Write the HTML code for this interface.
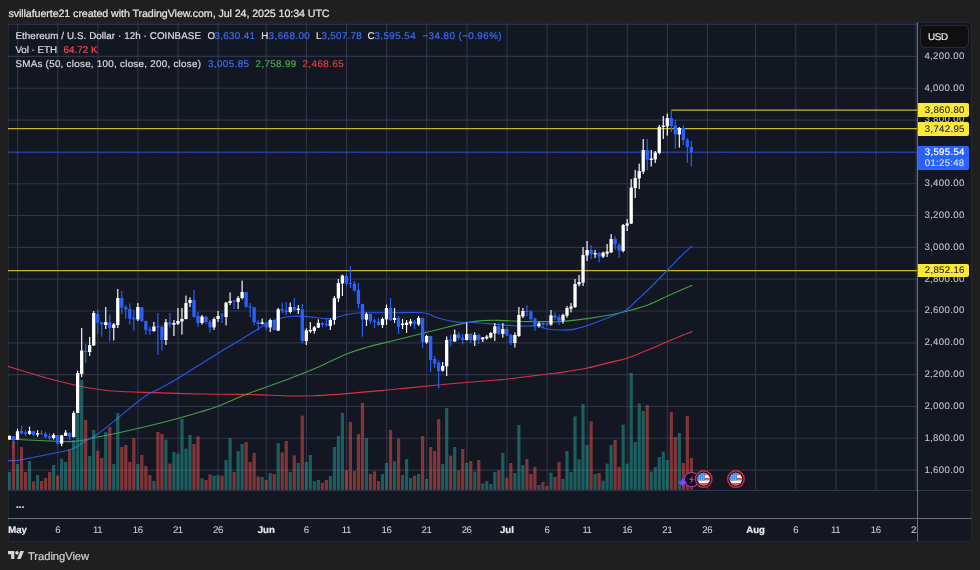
<!DOCTYPE html>
<html lang="en"><head><meta charset="utf-8"><title>ETHUSD chart</title>
<style>
html,body{margin:0;padding:0;}
body{text-rendering:geometricPrecision;width:980px;height:570px;background:#1f1f1f;position:relative;overflow:hidden;font-family:"Liberation Sans", Arial, sans-serif;color:#dcdee5;}
.t{position:absolute;white-space:nowrap;line-height:1.149;-webkit-text-stroke:0.2px currentColor;}
.tag{position:absolute;left:918px;width:51px;border-radius:0 2px 2px 0;}
</style></head><body>

<svg width="980" height="570" viewBox="0 0 980 570" style="position:absolute;left:0;top:0">
<rect x="8.3" y="22.2" width="963.3000000000001" height="519.0999999999999" fill="#131722" stroke="#2b2c32" stroke-width="0.8"/>
<defs><clipPath id="pane"><rect x="8" y="22.5" width="909.5" height="468.0"/></clipPath></defs>
<g stroke="#2f3448" stroke-width="1.15" clip-path="url(#pane)"><line x1="17.60" y1="22.5" x2="17.60" y2="490.5"/><line x1="57.71" y1="22.5" x2="57.71" y2="490.5"/><line x1="97.82" y1="22.5" x2="97.82" y2="490.5"/><line x1="137.93" y1="22.5" x2="137.93" y2="490.5"/><line x1="178.04" y1="22.5" x2="178.04" y2="490.5"/><line x1="218.15" y1="22.5" x2="218.15" y2="490.5"/><line x1="266.28" y1="22.5" x2="266.28" y2="490.5"/><line x1="306.39" y1="22.5" x2="306.39" y2="490.5"/><line x1="346.50" y1="22.5" x2="346.50" y2="490.5"/><line x1="386.61" y1="22.5" x2="386.61" y2="490.5"/><line x1="426.72" y1="22.5" x2="426.72" y2="490.5"/><line x1="466.83" y1="22.5" x2="466.83" y2="490.5"/><line x1="506.94" y1="22.5" x2="506.94" y2="490.5"/><line x1="547.05" y1="22.5" x2="547.05" y2="490.5"/><line x1="587.16" y1="22.5" x2="587.16" y2="490.5"/><line x1="627.27" y1="22.5" x2="627.27" y2="490.5"/><line x1="667.38" y1="22.5" x2="667.38" y2="490.5"/><line x1="707.49" y1="22.5" x2="707.49" y2="490.5"/><line x1="755.63" y1="22.5" x2="755.63" y2="490.5"/><line x1="795.74" y1="22.5" x2="795.74" y2="490.5"/><line x1="835.85" y1="22.5" x2="835.85" y2="490.5"/><line x1="875.96" y1="22.5" x2="875.96" y2="490.5"/><line x1="916.07" y1="22.5" x2="916.07" y2="490.5"/><line x1="8" y1="470.11" x2="917.5" y2="470.11"/><line x1="8" y1="438.29" x2="917.5" y2="438.29"/><line x1="8" y1="406.47" x2="917.5" y2="406.47"/><line x1="8" y1="374.64" x2="917.5" y2="374.64"/><line x1="8" y1="342.82" x2="917.5" y2="342.82"/><line x1="8" y1="310.99" x2="917.5" y2="310.99"/><line x1="8" y1="279.17" x2="917.5" y2="279.17"/><line x1="8" y1="247.35" x2="917.5" y2="247.35"/><line x1="8" y1="215.52" x2="917.5" y2="215.52"/><line x1="8" y1="183.70" x2="917.5" y2="183.70"/><line x1="8" y1="151.87" x2="917.5" y2="151.87"/><line x1="8" y1="120.05" x2="917.5" y2="120.05"/><line x1="8" y1="88.23" x2="917.5" y2="88.23"/><line x1="8" y1="56.40" x2="917.5" y2="56.40"/></g>
<line x1="8.5" y1="24.2" x2="917.5" y2="24.2" stroke="#353c59" stroke-width="1"/>
<g clip-path="url(#pane)">
<line x1="8" y1="270.55" x2="917.5" y2="270.55" stroke="#c9b62f" stroke-width="1.2"/>
<line x1="8" y1="128.55" x2="917.5" y2="128.55" stroke="#c9b62f" stroke-width="1.2"/>
<line x1="671.40" y1="110.05" x2="917.5" y2="110.05" stroke="#c9b62f" stroke-width="1.2"/>
<path fill="none" stroke="#d8323f" stroke-width="1.1" stroke-linecap="round" d="M8.0,366.4 C11.7,367.5 21.7,370.6 30.0,373.0 C38.3,375.4 49.0,378.7 58.0,381.0 C67.0,383.3 77.3,385.6 84.0,387.0 C90.7,388.4 93.3,388.5 98.0,389.2 C102.7,389.9 104.3,390.5 112.0,391.0 C119.7,391.5 129.3,391.9 144.0,392.4 C158.7,392.9 183.0,393.7 200.0,394.0 C217.0,394.3 230.7,394.1 246.0,394.4 C261.3,394.7 280.3,395.8 292.0,396.0 C303.7,396.2 306.9,396.0 316.0,395.6 C325.1,395.2 333.9,394.6 346.6,393.6 C359.3,392.6 376.8,390.9 392.0,389.5 C407.2,388.1 428.7,385.9 438.0,385.0 C447.3,384.1 438.3,384.8 448.0,384.0 C457.7,383.2 486.0,380.8 496.0,380.0 C506.0,379.2 499.3,380.0 508.0,379.0 C516.7,378.0 539.3,375.1 548.0,374.0 C556.7,372.9 553.4,373.6 560.0,372.6 C566.6,371.6 579.1,369.7 587.4,368.0 C595.7,366.3 603.3,364.1 610.0,362.4 C616.7,360.7 621.3,360.1 627.6,358.0 C633.9,355.9 641.3,352.7 648.0,350.0 C654.7,347.3 660.3,344.7 667.6,341.6 C674.9,338.5 687.9,333.3 692.0,331.6"/>
<path fill="none" stroke="#43a047" stroke-width="1.1" stroke-linecap="round" d="M8.0,439.0 C13.3,439.2 29.7,440.1 40.0,440.5 C50.3,440.9 62.7,441.7 70.0,441.6 C77.3,441.5 79.4,440.8 84.0,440.0 C88.6,439.2 91.9,438.2 97.6,437.0 C103.3,435.8 110.3,434.7 118.0,433.0 C125.7,431.3 134.3,429.3 144.0,427.0 C153.7,424.7 166.7,421.5 176.0,419.0 C185.3,416.5 192.9,414.2 200.0,412.0 C207.1,409.8 211.6,408.7 218.6,406.0 C225.6,403.3 234.0,399.2 242.0,396.0 C250.0,392.8 259.1,389.7 266.4,387.0 C273.7,384.3 280.4,382.1 286.0,380.0 C291.6,377.9 295.0,376.5 300.0,374.5 C305.0,372.5 308.2,371.4 316.0,368.0 C323.8,364.6 337.9,357.5 346.6,354.0 C355.3,350.5 360.4,349.2 368.0,347.0 C375.6,344.8 385.3,342.7 392.0,341.0 C398.7,339.3 402.7,338.3 408.0,337.0 C413.3,335.7 417.3,334.7 424.0,333.0 C430.7,331.3 440.7,328.8 448.0,327.0 C455.3,325.2 462.3,323.5 468.0,322.4 C473.7,321.3 476.7,320.9 482.0,320.6 C487.3,320.3 492.3,320.2 500.0,320.4 C507.7,320.6 520.0,321.4 528.0,321.6 C536.0,321.8 542.7,321.6 548.0,321.6 C553.3,321.6 553.4,322.1 560.0,321.6 C566.6,321.1 579.1,319.7 587.4,318.6 C595.7,317.5 603.3,316.3 610.0,315.0 C616.7,313.7 621.3,312.7 627.6,311.0 C633.9,309.3 641.3,307.5 648.0,305.0 C654.7,302.5 662.1,298.5 667.6,296.0 C673.1,293.5 676.9,291.8 681.0,290.0 C685.1,288.2 690.2,286.2 692.0,285.4"/>
<path fill="none" stroke="#2558e6" stroke-width="1.1" stroke-linecap="round" d="M8.0,460.6 C9.7,460.6 14.3,460.8 18.0,460.4 C21.7,460.0 24.7,459.1 30.0,458.0 C35.3,456.9 43.0,455.5 50.0,454.0 C57.0,452.5 66.3,451.0 72.0,449.0 C77.7,447.0 79.7,444.5 84.0,442.0 C88.3,439.5 91.9,438.0 97.6,434.0 C103.3,430.0 110.3,424.2 118.0,418.0 C125.7,411.8 137.2,401.8 144.0,397.0 C150.8,392.2 153.8,391.8 159.0,389.0 C164.2,386.2 168.8,383.7 175.0,380.0 C181.2,376.3 188.7,371.5 196.0,367.0 C203.3,362.5 210.9,357.7 218.6,353.0 C226.3,348.3 234.0,343.8 242.0,339.0 C250.0,334.2 260.1,327.4 266.4,324.0 C272.7,320.6 275.7,319.8 280.0,318.5 C284.3,317.2 287.6,316.6 292.0,316.3 C296.4,316.0 300.9,316.2 306.6,316.6 C312.3,317.0 321.1,318.5 326.0,318.6 C330.9,318.7 332.6,318.1 336.0,317.4 C339.4,316.7 342.3,315.4 346.6,314.6 C350.9,313.8 354.4,313.1 362.0,312.8 C369.6,312.5 381.7,312.8 392.0,312.8 C402.3,312.8 416.3,312.1 424.0,313.0 C431.7,313.9 433.0,316.6 438.0,318.0 C443.0,319.4 449.0,320.9 454.0,321.6 C459.0,322.3 462.3,322.1 468.0,322.4 C473.7,322.7 480.0,323.0 488.0,323.6 C496.0,324.2 508.0,325.6 516.0,326.0 C524.0,326.4 530.7,325.5 536.0,326.0 C541.3,326.5 544.0,328.3 548.0,329.0 C552.0,329.7 556.0,329.9 560.0,330.0 C564.0,330.1 567.4,330.3 572.0,329.6 C576.6,328.9 581.1,327.7 587.4,325.6 C593.7,323.5 604.2,319.3 610.0,317.0 C615.8,314.7 619.1,313.3 622.0,312.0 C624.9,310.7 625.3,310.8 627.6,309.0 C629.9,307.2 632.6,304.2 636.0,301.0 C639.4,297.8 642.7,295.2 648.0,290.0 C653.3,284.8 662.3,275.5 667.6,270.0 C672.9,264.5 675.9,261.0 680.0,257.0 C684.1,253.0 690.0,247.8 692.0,246.0"/>
<line x1="8" y1="152.45" x2="917.5" y2="152.45" stroke="#2962ff" stroke-opacity="0.26" stroke-width="1"/>
<line x1="8.6" y1="152.45" x2="917.5" y2="152.45" stroke="#2962ff" stroke-opacity="0.75" stroke-width="1" stroke-dasharray="0.9 1.57"/>
<g fill="#26a69a" fill-opacity="0.5"><rect x="7.88" y="472.0" width="3.2" height="17.8"/><rect x="15.90" y="464.0" width="3.2" height="25.8"/><rect x="27.93" y="461.0" width="3.2" height="28.8"/><rect x="35.96" y="475.0" width="3.2" height="14.8"/><rect x="52.00" y="465.0" width="3.2" height="24.8"/><rect x="60.02" y="458.6" width="3.2" height="31.2"/><rect x="64.03" y="462.0" width="3.2" height="27.8"/><rect x="72.06" y="440.0" width="3.2" height="49.8"/><rect x="76.07" y="414.0" width="3.2" height="75.8"/><rect x="80.08" y="380.0" width="3.2" height="109.8"/><rect x="88.10" y="456.0" width="3.2" height="33.8"/><rect x="92.11" y="430.0" width="3.2" height="59.8"/><rect x="104.14" y="432.0" width="3.2" height="57.8"/><rect x="112.17" y="464.0" width="3.2" height="25.8"/><rect x="116.18" y="413.0" width="3.2" height="76.8"/><rect x="136.23" y="464.0" width="3.2" height="25.8"/><rect x="152.28" y="481.0" width="3.2" height="8.8"/><rect x="164.31" y="439.6" width="3.2" height="50.2"/><rect x="172.33" y="452.0" width="3.2" height="37.8"/><rect x="176.34" y="453.6" width="3.2" height="36.2"/><rect x="180.35" y="419.0" width="3.2" height="70.8"/><rect x="184.36" y="448.6" width="3.2" height="41.2"/><rect x="188.38" y="435.0" width="3.2" height="54.8"/><rect x="200.41" y="478.4" width="3.2" height="11.4"/><rect x="212.44" y="475.6" width="3.2" height="14.2"/><rect x="216.45" y="475.2" width="3.2" height="14.6"/><rect x="224.47" y="460.0" width="3.2" height="29.8"/><rect x="228.49" y="438.0" width="3.2" height="51.8"/><rect x="236.51" y="451.0" width="3.2" height="38.8"/><rect x="240.52" y="444.0" width="3.2" height="45.8"/><rect x="260.57" y="477.0" width="3.2" height="12.8"/><rect x="268.59" y="473.0" width="3.2" height="16.8"/><rect x="276.62" y="443.0" width="3.2" height="46.8"/><rect x="288.65" y="472.0" width="3.2" height="17.8"/><rect x="296.67" y="463.0" width="3.2" height="26.8"/><rect x="304.69" y="462.0" width="3.2" height="27.8"/><rect x="308.70" y="455.0" width="3.2" height="34.8"/><rect x="312.72" y="481.4" width="3.2" height="8.4"/><rect x="316.73" y="480.0" width="3.2" height="9.8"/><rect x="328.76" y="476.0" width="3.2" height="13.8"/><rect x="332.77" y="447.0" width="3.2" height="42.8"/><rect x="336.78" y="436.0" width="3.2" height="53.8"/><rect x="340.79" y="413.0" width="3.2" height="76.8"/><rect x="364.86" y="438.0" width="3.2" height="51.8"/><rect x="380.90" y="474.0" width="3.2" height="15.8"/><rect x="384.91" y="463.0" width="3.2" height="26.8"/><rect x="392.94" y="461.4" width="3.2" height="28.4"/><rect x="400.96" y="475.0" width="3.2" height="14.8"/><rect x="404.97" y="459.0" width="3.2" height="30.8"/><rect x="408.98" y="478.0" width="3.2" height="11.8"/><rect x="417.00" y="474.0" width="3.2" height="15.8"/><rect x="425.02" y="479.0" width="3.2" height="10.8"/><rect x="441.07" y="464.0" width="3.2" height="25.8"/><rect x="445.08" y="408.0" width="3.2" height="81.8"/><rect x="453.10" y="447.0" width="3.2" height="42.8"/><rect x="465.13" y="463.0" width="3.2" height="26.8"/><rect x="473.16" y="471.6" width="3.2" height="18.2"/><rect x="481.18" y="483.4" width="3.2" height="6.4"/><rect x="485.19" y="481.0" width="3.2" height="8.8"/><rect x="489.20" y="484.0" width="3.2" height="5.8"/><rect x="493.21" y="472.0" width="3.2" height="17.8"/><rect x="501.23" y="453.0" width="3.2" height="36.8"/><rect x="513.27" y="473.0" width="3.2" height="16.8"/><rect x="517.28" y="425.0" width="3.2" height="64.8"/><rect x="521.29" y="465.0" width="3.2" height="24.8"/><rect x="537.33" y="485.0" width="3.2" height="4.8"/><rect x="549.37" y="472.6" width="3.2" height="17.2"/><rect x="561.40" y="479.0" width="3.2" height="10.8"/><rect x="565.41" y="451.0" width="3.2" height="38.8"/><rect x="569.42" y="472.0" width="3.2" height="17.8"/><rect x="573.43" y="416.4" width="3.2" height="73.4"/><rect x="577.44" y="459.4" width="3.2" height="30.4"/><rect x="581.45" y="404.0" width="3.2" height="85.8"/><rect x="585.46" y="445.0" width="3.2" height="44.8"/><rect x="593.49" y="474.0" width="3.2" height="15.8"/><rect x="601.51" y="480.6" width="3.2" height="9.2"/><rect x="605.52" y="463.6" width="3.2" height="26.2"/><rect x="609.53" y="445.0" width="3.2" height="44.8"/><rect x="621.56" y="424.6" width="3.2" height="65.2"/><rect x="625.57" y="463.6" width="3.2" height="26.2"/><rect x="629.59" y="373.0" width="3.2" height="116.8"/><rect x="633.60" y="442.0" width="3.2" height="47.8"/><rect x="637.61" y="403.6" width="3.2" height="86.2"/><rect x="641.62" y="411.0" width="3.2" height="78.8"/><rect x="649.64" y="471.6" width="3.2" height="18.2"/><rect x="653.65" y="467.0" width="3.2" height="22.8"/><rect x="657.66" y="457.0" width="3.2" height="32.8"/><rect x="661.67" y="451.6" width="3.2" height="38.2"/><rect x="665.68" y="460.0" width="3.2" height="29.8"/><rect x="677.72" y="433.0" width="3.2" height="56.8"/></g>
<g fill="#ef5350" fill-opacity="0.5"><rect x="11.89" y="441.0" width="3.2" height="48.8"/><rect x="19.91" y="447.0" width="3.2" height="42.8"/><rect x="23.92" y="472.0" width="3.2" height="17.8"/><rect x="31.95" y="481.4" width="3.2" height="8.4"/><rect x="39.97" y="481.0" width="3.2" height="8.8"/><rect x="43.98" y="478.0" width="3.2" height="11.8"/><rect x="47.99" y="472.0" width="3.2" height="17.8"/><rect x="56.01" y="475.6" width="3.2" height="14.2"/><rect x="68.05" y="449.6" width="3.2" height="40.2"/><rect x="84.09" y="420.0" width="3.2" height="69.8"/><rect x="96.12" y="450.6" width="3.2" height="39.2"/><rect x="100.13" y="458.0" width="3.2" height="31.8"/><rect x="108.16" y="427.0" width="3.2" height="62.8"/><rect x="120.19" y="447.0" width="3.2" height="42.8"/><rect x="124.20" y="445.0" width="3.2" height="44.8"/><rect x="128.21" y="462.0" width="3.2" height="27.8"/><rect x="132.22" y="438.0" width="3.2" height="51.8"/><rect x="140.24" y="455.0" width="3.2" height="34.8"/><rect x="144.25" y="466.0" width="3.2" height="23.8"/><rect x="148.27" y="475.0" width="3.2" height="14.8"/><rect x="156.29" y="432.0" width="3.2" height="57.8"/><rect x="160.30" y="434.0" width="3.2" height="55.8"/><rect x="168.32" y="463.6" width="3.2" height="26.2"/><rect x="192.39" y="444.0" width="3.2" height="45.8"/><rect x="196.40" y="436.4" width="3.2" height="53.4"/><rect x="204.42" y="480.0" width="3.2" height="9.8"/><rect x="208.43" y="474.4" width="3.2" height="15.4"/><rect x="220.46" y="475.6" width="3.2" height="14.2"/><rect x="232.50" y="472.0" width="3.2" height="17.8"/><rect x="244.53" y="442.0" width="3.2" height="47.8"/><rect x="248.54" y="462.0" width="3.2" height="27.8"/><rect x="252.55" y="453.0" width="3.2" height="36.8"/><rect x="256.56" y="476.4" width="3.2" height="13.4"/><rect x="264.58" y="480.0" width="3.2" height="9.8"/><rect x="272.61" y="474.0" width="3.2" height="15.8"/><rect x="280.63" y="452.4" width="3.2" height="37.4"/><rect x="284.64" y="441.0" width="3.2" height="48.8"/><rect x="292.66" y="455.4" width="3.2" height="34.4"/><rect x="300.68" y="415.6" width="3.2" height="74.2"/><rect x="320.74" y="482.6" width="3.2" height="7.2"/><rect x="324.75" y="480.0" width="3.2" height="9.8"/><rect x="344.80" y="470.0" width="3.2" height="19.8"/><rect x="348.81" y="422.0" width="3.2" height="67.8"/><rect x="352.83" y="471.0" width="3.2" height="18.8"/><rect x="356.84" y="434.0" width="3.2" height="55.8"/><rect x="360.85" y="403.0" width="3.2" height="86.8"/><rect x="368.87" y="474.0" width="3.2" height="15.8"/><rect x="372.88" y="471.4" width="3.2" height="18.4"/><rect x="376.89" y="481.0" width="3.2" height="8.8"/><rect x="388.92" y="430.0" width="3.2" height="59.8"/><rect x="396.95" y="438.4" width="3.2" height="51.4"/><rect x="412.99" y="475.6" width="3.2" height="14.2"/><rect x="421.01" y="436.0" width="3.2" height="53.8"/><rect x="429.03" y="447.0" width="3.2" height="42.8"/><rect x="433.05" y="451.0" width="3.2" height="38.8"/><rect x="437.06" y="419.0" width="3.2" height="70.8"/><rect x="449.09" y="455.6" width="3.2" height="34.2"/><rect x="457.11" y="470.4" width="3.2" height="19.4"/><rect x="461.12" y="449.0" width="3.2" height="40.8"/><rect x="469.14" y="461.0" width="3.2" height="28.8"/><rect x="477.17" y="460.0" width="3.2" height="29.8"/><rect x="497.22" y="470.4" width="3.2" height="19.4"/><rect x="505.24" y="477.6" width="3.2" height="12.2"/><rect x="509.25" y="463.0" width="3.2" height="26.8"/><rect x="525.30" y="459.0" width="3.2" height="30.8"/><rect x="529.31" y="474.0" width="3.2" height="15.8"/><rect x="533.32" y="467.0" width="3.2" height="22.8"/><rect x="541.34" y="482.0" width="3.2" height="7.8"/><rect x="545.35" y="486.0" width="3.2" height="3.8"/><rect x="553.38" y="477.0" width="3.2" height="12.8"/><rect x="557.39" y="462.0" width="3.2" height="27.8"/><rect x="589.48" y="421.4" width="3.2" height="68.4"/><rect x="597.50" y="473.0" width="3.2" height="16.8"/><rect x="613.54" y="440.0" width="3.2" height="49.8"/><rect x="617.55" y="467.0" width="3.2" height="22.8"/><rect x="645.63" y="405.0" width="3.2" height="84.8"/><rect x="669.70" y="412.0" width="3.2" height="77.8"/><rect x="673.71" y="437.0" width="3.2" height="52.8"/><rect x="681.73" y="463.0" width="3.2" height="26.8"/><rect x="685.74" y="416.0" width="3.2" height="73.8"/><rect x="689.75" y="458.0" width="3.2" height="31.8"/></g>
<g fill="#ffffff"><rect x="7.83" y="435.9" width="3.3" height="3.6"/><rect x="8.91" y="435.5" width="1.15" height="4.5"/><rect x="15.85" y="431.3" width="3.3" height="8.2"/><rect x="16.93" y="428.8" width="1.15" height="11.2"/><rect x="27.88" y="431.1" width="3.3" height="2.8"/><rect x="28.96" y="426.7" width="1.15" height="8.2"/><rect x="35.91" y="433.2" width="3.3" height="1.4"/><rect x="36.98" y="430.3" width="1.15" height="6.6"/><rect x="51.95" y="434.9" width="3.3" height="3.1"/><rect x="53.03" y="433.2" width="1.15" height="6.3"/><rect x="59.97" y="435.4" width="3.3" height="8.2"/><rect x="61.05" y="434.9" width="1.15" height="11.2"/><rect x="63.98" y="432.6" width="3.3" height="3.1"/><rect x="65.06" y="430.1" width="1.15" height="5.9"/><rect x="72.01" y="413.0" width="3.3" height="23.9"/><rect x="73.08" y="411.0" width="1.15" height="26.6"/><rect x="76.02" y="373.0" width="3.3" height="40.0"/><rect x="77.09" y="370.6" width="1.15" height="42.8"/><rect x="80.03" y="350.6" width="3.3" height="23.4"/><rect x="81.10" y="328.0" width="1.15" height="49.0"/><rect x="88.05" y="345.0" width="3.3" height="7.0"/><rect x="89.12" y="337.0" width="1.15" height="19.0"/><rect x="92.06" y="313.0" width="3.3" height="32.4"/><rect x="93.14" y="311.0" width="1.15" height="35.0"/><rect x="104.09" y="322.2" width="3.3" height="2.8"/><rect x="105.17" y="307.0" width="1.15" height="22.0"/><rect x="112.12" y="324.4" width="3.3" height="3.6"/><rect x="113.19" y="323.0" width="1.15" height="17.4"/><rect x="116.13" y="298.0" width="3.3" height="27.0"/><rect x="117.20" y="289.0" width="1.15" height="39.0"/><rect x="136.18" y="307.0" width="3.3" height="12.4"/><rect x="137.26" y="303.0" width="1.15" height="18.0"/><rect x="152.23" y="326.6" width="3.3" height="4.4"/><rect x="153.30" y="322.0" width="1.15" height="10.0"/><rect x="164.26" y="322.4" width="3.3" height="17.6"/><rect x="165.33" y="319.0" width="1.15" height="26.0"/><rect x="172.28" y="323.0" width="3.3" height="1.6"/><rect x="173.36" y="320.0" width="1.15" height="16.0"/><rect x="176.29" y="321.0" width="3.3" height="2.6"/><rect x="177.37" y="308.0" width="1.15" height="17.0"/><rect x="180.30" y="319.0" width="3.3" height="2.4"/><rect x="181.38" y="308.0" width="1.15" height="26.6"/><rect x="184.31" y="303.0" width="3.3" height="16.0"/><rect x="185.39" y="295.6" width="1.15" height="23.8"/><rect x="188.33" y="300.0" width="3.3" height="3.0"/><rect x="189.40" y="297.4" width="1.15" height="9.6"/><rect x="200.36" y="316.6" width="3.3" height="6.4"/><rect x="201.43" y="315.0" width="1.15" height="9.6"/><rect x="212.39" y="319.0" width="3.3" height="8.4"/><rect x="213.47" y="317.4" width="1.15" height="12.6"/><rect x="216.40" y="316.0" width="3.3" height="3.0"/><rect x="217.48" y="311.0" width="1.15" height="11.0"/><rect x="224.42" y="302.6" width="3.3" height="14.4"/><rect x="225.50" y="302.0" width="1.15" height="23.4"/><rect x="228.44" y="301.0" width="3.3" height="2.0"/><rect x="229.51" y="292.4" width="1.15" height="12.6"/><rect x="236.46" y="298.0" width="3.3" height="4.0"/><rect x="237.53" y="296.0" width="1.15" height="13.0"/><rect x="240.47" y="292.0" width="3.3" height="6.0"/><rect x="241.54" y="280.6" width="1.15" height="18.8"/><rect x="260.52" y="322.4" width="3.3" height="1.6"/><rect x="261.60" y="318.6" width="1.15" height="6.0"/><rect x="268.55" y="320.0" width="3.3" height="7.4"/><rect x="269.62" y="318.6" width="1.15" height="13.4"/><rect x="276.57" y="309.4" width="3.3" height="21.2"/><rect x="277.64" y="308.0" width="1.15" height="23.0"/><rect x="288.60" y="307.0" width="3.3" height="5.0"/><rect x="289.67" y="302.6" width="1.15" height="10.8"/><rect x="296.62" y="308.6" width="3.3" height="1.4"/><rect x="297.70" y="305.0" width="1.15" height="9.0"/><rect x="304.64" y="330.4" width="3.3" height="10.6"/><rect x="305.72" y="328.4" width="1.15" height="16.6"/><rect x="308.65" y="330.0" width="3.3" height="1.4"/><rect x="309.73" y="322.0" width="1.15" height="11.0"/><rect x="312.67" y="327.4" width="3.3" height="3.6"/><rect x="313.74" y="326.0" width="1.15" height="7.6"/><rect x="316.68" y="323.0" width="3.3" height="4.6"/><rect x="317.75" y="319.4" width="1.15" height="8.6"/><rect x="328.71" y="320.0" width="3.3" height="6.0"/><rect x="329.78" y="318.6" width="1.15" height="11.4"/><rect x="332.72" y="298.0" width="3.3" height="22.0"/><rect x="333.80" y="296.0" width="1.15" height="28.6"/><rect x="336.73" y="283.0" width="3.3" height="15.4"/><rect x="337.81" y="279.0" width="1.15" height="23.0"/><rect x="340.74" y="275.6" width="3.3" height="7.8"/><rect x="341.82" y="274.6" width="1.15" height="21.4"/><rect x="364.81" y="314.0" width="3.3" height="5.6"/><rect x="365.88" y="312.6" width="1.15" height="13.4"/><rect x="380.85" y="319.0" width="3.3" height="6.0"/><rect x="381.93" y="317.4" width="1.15" height="10.6"/><rect x="384.86" y="308.0" width="3.3" height="11.4"/><rect x="385.94" y="304.6" width="1.15" height="20.4"/><rect x="392.89" y="318.0" width="3.3" height="2.0"/><rect x="393.96" y="308.0" width="1.15" height="15.0"/><rect x="400.91" y="323.6" width="3.3" height="1.4"/><rect x="401.98" y="319.0" width="1.15" height="10.0"/><rect x="404.92" y="322.6" width="3.3" height="2.4"/><rect x="405.99" y="320.0" width="1.15" height="13.0"/><rect x="408.93" y="321.4" width="3.3" height="2.2"/><rect x="410.00" y="319.0" width="1.15" height="7.0"/><rect x="416.95" y="318.0" width="3.3" height="6.4"/><rect x="418.03" y="316.0" width="1.15" height="10.0"/><rect x="424.97" y="336.0" width="3.3" height="6.4"/><rect x="426.05" y="335.0" width="1.15" height="8.6"/><rect x="441.02" y="366.0" width="3.3" height="4.6"/><rect x="442.09" y="362.0" width="1.15" height="9.6"/><rect x="445.03" y="340.0" width="3.3" height="26.4"/><rect x="446.10" y="336.4" width="1.15" height="39.6"/><rect x="453.05" y="334.4" width="3.3" height="7.0"/><rect x="454.13" y="329.6" width="1.15" height="12.4"/><rect x="465.08" y="334.0" width="3.3" height="6.0"/><rect x="466.16" y="322.4" width="1.15" height="18.0"/><rect x="473.11" y="335.0" width="3.3" height="5.4"/><rect x="474.18" y="332.4" width="1.15" height="13.6"/><rect x="481.13" y="337.4" width="3.3" height="2.0"/><rect x="482.20" y="337.0" width="1.15" height="5.0"/><rect x="485.14" y="336.6" width="3.3" height="1.8"/><rect x="486.21" y="335.0" width="1.15" height="4.6"/><rect x="489.15" y="333.0" width="3.3" height="4.4"/><rect x="490.22" y="332.0" width="1.15" height="6.4"/><rect x="493.16" y="326.4" width="3.3" height="7.0"/><rect x="494.24" y="323.0" width="1.15" height="18.0"/><rect x="501.18" y="329.0" width="3.3" height="5.0"/><rect x="502.26" y="323.0" width="1.15" height="14.6"/><rect x="513.22" y="335.0" width="3.3" height="8.0"/><rect x="514.29" y="332.4" width="1.15" height="15.2"/><rect x="517.23" y="315.0" width="3.3" height="21.0"/><rect x="518.30" y="307.0" width="1.15" height="30.0"/><rect x="521.24" y="311.0" width="3.3" height="5.4"/><rect x="522.31" y="308.0" width="1.15" height="10.0"/><rect x="537.28" y="323.4" width="3.3" height="2.6"/><rect x="538.36" y="321.6" width="1.15" height="6.0"/><rect x="549.32" y="315.4" width="3.3" height="9.2"/><rect x="550.39" y="310.0" width="1.15" height="15.6"/><rect x="561.35" y="315.0" width="3.3" height="5.6"/><rect x="562.42" y="313.6" width="1.15" height="10.0"/><rect x="565.36" y="308.0" width="3.3" height="7.6"/><rect x="566.43" y="306.0" width="1.15" height="11.6"/><rect x="569.37" y="306.6" width="3.3" height="2.0"/><rect x="570.44" y="303.0" width="1.15" height="9.4"/><rect x="573.38" y="284.0" width="3.3" height="23.0"/><rect x="574.46" y="279.0" width="1.15" height="29.0"/><rect x="577.39" y="282.0" width="3.3" height="2.4"/><rect x="578.47" y="275.0" width="1.15" height="11.4"/><rect x="581.40" y="255.0" width="3.3" height="27.6"/><rect x="582.48" y="247.0" width="1.15" height="39.0"/><rect x="585.41" y="250.0" width="3.3" height="5.4"/><rect x="586.49" y="241.0" width="1.15" height="20.0"/><rect x="593.44" y="253.0" width="3.3" height="1.4"/><rect x="594.51" y="250.0" width="1.15" height="8.0"/><rect x="601.46" y="252.6" width="3.3" height="4.0"/><rect x="602.53" y="251.6" width="1.15" height="6.4"/><rect x="605.47" y="251.6" width="3.3" height="2.0"/><rect x="606.54" y="244.0" width="1.15" height="13.0"/><rect x="609.48" y="239.0" width="3.3" height="13.4"/><rect x="610.55" y="234.0" width="1.15" height="19.0"/><rect x="621.51" y="225.0" width="3.3" height="26.0"/><rect x="622.59" y="224.0" width="1.15" height="28.4"/><rect x="625.52" y="223.4" width="3.3" height="2.2"/><rect x="626.60" y="219.0" width="1.15" height="12.0"/><rect x="629.54" y="187.6" width="3.3" height="36.0"/><rect x="630.61" y="179.0" width="1.15" height="45.0"/><rect x="633.55" y="178.0" width="3.3" height="10.0"/><rect x="634.62" y="170.0" width="1.15" height="28.0"/><rect x="637.56" y="171.0" width="3.3" height="7.4"/><rect x="638.63" y="163.6" width="1.15" height="25.4"/><rect x="641.57" y="150.0" width="3.3" height="21.6"/><rect x="642.64" y="139.0" width="1.15" height="35.0"/><rect x="649.59" y="158.6" width="3.3" height="1.4"/><rect x="650.66" y="150.0" width="1.15" height="16.6"/><rect x="653.60" y="152.6" width="3.3" height="6.8"/><rect x="654.68" y="151.0" width="1.15" height="12.0"/><rect x="657.61" y="127.0" width="3.3" height="26.0"/><rect x="658.69" y="125.0" width="1.15" height="29.4"/><rect x="661.62" y="125.6" width="3.3" height="1.4"/><rect x="662.70" y="116.0" width="1.15" height="23.0"/><rect x="665.63" y="118.0" width="3.3" height="8.4"/><rect x="666.71" y="113.6" width="1.15" height="22.0"/><rect x="677.67" y="128.0" width="3.3" height="6.4"/><rect x="678.74" y="127.0" width="1.15" height="20.6"/></g>
<g fill="#2962ff"><rect x="11.84" y="436.2" width="3.3" height="3.3"/><rect x="12.92" y="436.0" width="1.15" height="12.7"/><rect x="19.86" y="430.8" width="3.3" height="2.6"/><rect x="20.94" y="426.2" width="1.15" height="8.2"/><rect x="23.87" y="432.3" width="3.3" height="1.6"/><rect x="24.95" y="430.1" width="1.15" height="6.1"/><rect x="31.90" y="431.3" width="3.3" height="3.6"/><rect x="32.97" y="430.5" width="1.15" height="5.5"/><rect x="39.92" y="433.2" width="3.3" height="1.0"/><rect x="40.99" y="430.3" width="1.15" height="4.6"/><rect x="43.93" y="433.9" width="3.3" height="3.0"/><rect x="45.00" y="431.8" width="1.15" height="6.2"/><rect x="47.94" y="436.2" width="3.3" height="1.8"/><rect x="49.01" y="433.4" width="1.15" height="8.1"/><rect x="55.96" y="435.2" width="3.3" height="8.4"/><rect x="57.04" y="435.0" width="1.15" height="10.1"/><rect x="68.00" y="432.9" width="3.3" height="4.0"/><rect x="69.07" y="432.3" width="1.15" height="8.2"/><rect x="84.04" y="350.6" width="3.3" height="1.4"/><rect x="85.11" y="344.0" width="1.15" height="19.0"/><rect x="96.07" y="314.0" width="3.3" height="8.6"/><rect x="97.15" y="309.4" width="1.15" height="24.6"/><rect x="100.08" y="322.2" width="3.3" height="2.4"/><rect x="101.16" y="322.2" width="1.15" height="14.4"/><rect x="108.11" y="322.2" width="3.3" height="5.8"/><rect x="109.18" y="314.6" width="1.15" height="26.8"/><rect x="120.14" y="298.0" width="3.3" height="9.6"/><rect x="121.21" y="291.0" width="1.15" height="23.0"/><rect x="124.15" y="307.0" width="3.3" height="2.4"/><rect x="125.22" y="305.0" width="1.15" height="14.0"/><rect x="128.16" y="309.0" width="3.3" height="9.6"/><rect x="129.24" y="303.4" width="1.15" height="21.2"/><rect x="132.17" y="317.6" width="3.3" height="1.8"/><rect x="133.25" y="310.0" width="1.15" height="20.6"/><rect x="140.19" y="307.4" width="3.3" height="13.6"/><rect x="141.27" y="307.0" width="1.15" height="15.0"/><rect x="144.20" y="321.0" width="3.3" height="9.0"/><rect x="145.28" y="320.6" width="1.15" height="14.0"/><rect x="148.22" y="329.6" width="3.3" height="1.4"/><rect x="149.29" y="326.6" width="1.15" height="8.4"/><rect x="156.24" y="326.0" width="3.3" height="1.4"/><rect x="157.31" y="313.0" width="1.15" height="42.0"/><rect x="160.25" y="327.0" width="3.3" height="13.0"/><rect x="161.32" y="324.6" width="1.15" height="26.0"/><rect x="168.27" y="322.4" width="3.3" height="2.2"/><rect x="169.35" y="313.0" width="1.15" height="14.4"/><rect x="192.34" y="300.0" width="3.3" height="16.6"/><rect x="193.41" y="290.0" width="1.15" height="28.0"/><rect x="196.35" y="316.0" width="3.3" height="7.0"/><rect x="197.42" y="312.0" width="1.15" height="15.0"/><rect x="204.37" y="316.6" width="3.3" height="5.4"/><rect x="205.44" y="316.0" width="1.15" height="8.0"/><rect x="208.38" y="322.0" width="3.3" height="5.4"/><rect x="209.46" y="320.0" width="1.15" height="12.6"/><rect x="220.41" y="314.6" width="3.3" height="1.0"/><rect x="221.49" y="313.0" width="1.15" height="10.0"/><rect x="232.45" y="300.6" width="3.3" height="1.0"/><rect x="233.52" y="300.0" width="1.15" height="9.0"/><rect x="244.48" y="292.0" width="3.3" height="14.6"/><rect x="245.55" y="291.6" width="1.15" height="16.4"/><rect x="248.49" y="306.2" width="3.3" height="1.2"/><rect x="249.57" y="303.0" width="1.15" height="14.0"/><rect x="252.50" y="307.4" width="3.3" height="14.6"/><rect x="253.58" y="306.6" width="1.15" height="18.8"/><rect x="256.51" y="322.0" width="3.3" height="2.0"/><rect x="257.59" y="320.0" width="1.15" height="10.6"/><rect x="264.53" y="322.4" width="3.3" height="5.0"/><rect x="265.61" y="322.0" width="1.15" height="8.0"/><rect x="272.56" y="320.0" width="3.3" height="10.0"/><rect x="273.63" y="319.4" width="1.15" height="11.2"/><rect x="280.58" y="309.0" width="3.3" height="1.6"/><rect x="281.65" y="302.6" width="1.15" height="10.4"/><rect x="284.59" y="310.6" width="3.3" height="1.4"/><rect x="285.66" y="302.0" width="1.15" height="13.0"/><rect x="292.61" y="307.0" width="3.3" height="3.0"/><rect x="293.69" y="298.0" width="1.15" height="13.4"/><rect x="300.63" y="309.4" width="3.3" height="31.6"/><rect x="301.71" y="304.0" width="1.15" height="39.4"/><rect x="320.69" y="323.0" width="3.3" height="1.6"/><rect x="321.76" y="322.0" width="1.15" height="5.4"/><rect x="324.70" y="324.0" width="3.3" height="1.0"/><rect x="325.77" y="319.0" width="1.15" height="8.0"/><rect x="344.75" y="276.0" width="3.3" height="7.6"/><rect x="345.83" y="273.4" width="1.15" height="12.6"/><rect x="348.76" y="283.0" width="3.3" height="1.0"/><rect x="349.84" y="266.0" width="1.15" height="22.0"/><rect x="352.78" y="283.6" width="3.3" height="7.0"/><rect x="353.85" y="281.0" width="1.15" height="10.6"/><rect x="356.79" y="290.0" width="3.3" height="14.0"/><rect x="357.86" y="283.0" width="1.15" height="25.6"/><rect x="360.80" y="304.0" width="3.3" height="15.6"/><rect x="361.87" y="303.6" width="1.15" height="33.0"/><rect x="368.82" y="314.0" width="3.3" height="7.0"/><rect x="369.89" y="313.6" width="1.15" height="10.4"/><rect x="372.83" y="320.6" width="3.3" height="1.4"/><rect x="373.91" y="318.6" width="1.15" height="9.4"/><rect x="376.84" y="321.6" width="3.3" height="3.4"/><rect x="377.92" y="318.0" width="1.15" height="8.0"/><rect x="388.88" y="308.0" width="3.3" height="12.0"/><rect x="389.95" y="298.0" width="1.15" height="23.0"/><rect x="396.90" y="318.0" width="3.3" height="9.0"/><rect x="397.97" y="316.0" width="1.15" height="18.0"/><rect x="412.94" y="321.6" width="3.3" height="2.0"/><rect x="414.02" y="320.0" width="1.15" height="9.0"/><rect x="420.96" y="318.0" width="3.3" height="24.0"/><rect x="422.04" y="317.6" width="1.15" height="30.4"/><rect x="428.99" y="336.0" width="3.3" height="24.0"/><rect x="430.06" y="335.6" width="1.15" height="36.4"/><rect x="433.00" y="359.0" width="3.3" height="4.6"/><rect x="434.07" y="356.0" width="1.15" height="12.0"/><rect x="437.01" y="362.6" width="3.3" height="8.4"/><rect x="438.08" y="360.4" width="1.15" height="28.0"/><rect x="449.04" y="339.6" width="3.3" height="1.4"/><rect x="450.12" y="335.0" width="1.15" height="11.4"/><rect x="457.06" y="334.4" width="3.3" height="3.6"/><rect x="458.14" y="332.0" width="1.15" height="8.0"/><rect x="461.07" y="337.6" width="3.3" height="2.4"/><rect x="462.15" y="334.0" width="1.15" height="10.4"/><rect x="469.09" y="334.0" width="3.3" height="6.0"/><rect x="470.17" y="333.0" width="1.15" height="10.0"/><rect x="477.12" y="335.0" width="3.3" height="4.6"/><rect x="478.19" y="333.6" width="1.15" height="10.4"/><rect x="497.17" y="326.4" width="3.3" height="7.2"/><rect x="498.25" y="323.0" width="1.15" height="12.0"/><rect x="505.19" y="329.0" width="3.3" height="6.4"/><rect x="506.27" y="327.0" width="1.15" height="9.0"/><rect x="509.20" y="335.0" width="3.3" height="8.0"/><rect x="510.28" y="333.6" width="1.15" height="11.4"/><rect x="525.25" y="311.0" width="3.3" height="1.0"/><rect x="526.32" y="305.0" width="1.15" height="11.4"/><rect x="529.26" y="311.6" width="3.3" height="7.4"/><rect x="530.34" y="310.0" width="1.15" height="12.0"/><rect x="533.27" y="318.6" width="3.3" height="7.4"/><rect x="534.35" y="317.6" width="1.15" height="13.4"/><rect x="541.29" y="323.0" width="3.3" height="1.4"/><rect x="542.37" y="322.4" width="1.15" height="6.0"/><rect x="545.30" y="323.6" width="3.3" height="1.0"/><rect x="546.38" y="322.4" width="1.15" height="3.6"/><rect x="553.33" y="315.6" width="3.3" height="2.0"/><rect x="554.40" y="312.4" width="1.15" height="7.6"/><rect x="557.34" y="317.0" width="3.3" height="3.6"/><rect x="558.41" y="314.4" width="1.15" height="10.6"/><rect x="589.43" y="250.0" width="3.3" height="4.0"/><rect x="590.50" y="245.0" width="1.15" height="14.0"/><rect x="597.45" y="253.0" width="3.3" height="3.6"/><rect x="598.52" y="252.0" width="1.15" height="10.4"/><rect x="613.49" y="239.0" width="3.3" height="5.4"/><rect x="614.57" y="236.0" width="1.15" height="13.6"/><rect x="617.50" y="245.0" width="3.3" height="5.4"/><rect x="618.58" y="243.0" width="1.15" height="15.0"/><rect x="645.58" y="150.0" width="3.3" height="9.6"/><rect x="646.65" y="139.0" width="1.15" height="31.4"/><rect x="669.65" y="118.0" width="3.3" height="8.0"/><rect x="670.72" y="109.6" width="1.15" height="22.4"/><rect x="673.66" y="125.6" width="3.3" height="8.8"/><rect x="674.73" y="120.0" width="1.15" height="28.6"/><rect x="681.68" y="128.0" width="3.3" height="12.0"/><rect x="682.75" y="125.0" width="1.15" height="20.0"/><rect x="685.69" y="140.0" width="3.3" height="7.0"/><rect x="686.76" y="138.0" width="1.15" height="25.0"/><rect x="689.70" y="147.0" width="3.3" height="5.4"/><rect x="690.77" y="141.0" width="1.15" height="25.4"/></g>
</g>
<line x1="8" y1="490.5" x2="971.5" y2="490.5" stroke="#2f3448" stroke-width="1"/>
<line x1="917.5" y1="22.5" x2="917.5" y2="541" stroke="#707074" stroke-width="1"/>
<line x1="8" y1="518.5" x2="971.5" y2="518.5" stroke="#707074" stroke-width="1"/>
<circle cx="691.6" cy="479.5" r="7.2" fill="#0f0f0f" stroke="#9c35c4" stroke-width="1.2"/>
<path d="M693.2,475.3 L689.0,480.1 L691.4,480.1 L690.0,483.7 L694.2,478.9 L691.8000000000001,478.9 Z" fill="#a83ad0"/>
<path d="M682.7,478.4 Q683.6,481.6 686.8000000000001,482.5 Q683.6,483.4 682.7,486.6 Q681.8000000000001,483.4 678.6,482.5 Q681.8000000000001,481.6 682.7,478.4Z" fill="#7c4dff" stroke="#7c4dff" stroke-width="0.5" stroke-linejoin="round"/>
<g>
<clipPath id="fc1"><circle cx="703.7" cy="479.1" r="6.3"/></clipPath>
<circle cx="703.7" cy="479.1" r="8.3" fill="#131722" stroke="#e0283a" stroke-width="1.4"/>
<g clip-path="url(#fc1)">
<rect x="696.7" y="472.1" width="14" height="14" fill="#f4f4f6"/>
<rect x="696.7" y="472.6" width="14" height="2.6" fill="#ee5250"/>
<rect x="696.7" y="477.8" width="14" height="2.6" fill="#ee5250"/>
<rect x="696.7" y="483.0" width="14" height="2.6" fill="#ee5250"/>
<rect x="696.7" y="472.1" width="8.2" height="8.3" fill="#3d8fe8"/>
<g fill="#cfe3fb"><rect x="699.1" y="474.90000000000003" width="0.8" height="0.8"/><rect x="701.1" y="474.90000000000003" width="0.8" height="0.8"/><rect x="703.0" y="474.90000000000003" width="0.8" height="0.8"/><rect x="699.1" y="476.90000000000003" width="0.8" height="0.8"/><rect x="701.1" y="476.90000000000003" width="0.8" height="0.8"/><rect x="703.0" y="476.90000000000003" width="0.8" height="0.8"/><rect x="699.1" y="478.8" width="0.8" height="0.8"/><rect x="701.1" y="478.8" width="0.8" height="0.8"/><rect x="703.0" y="478.8" width="0.8" height="0.8"/></g>
</g></g>
<g>
<clipPath id="fc2"><circle cx="735.9" cy="479.1" r="6.3"/></clipPath>
<circle cx="735.9" cy="479.1" r="8.3" fill="#131722" stroke="#e0283a" stroke-width="1.4"/>
<g clip-path="url(#fc2)">
<rect x="728.9" y="472.1" width="14" height="14" fill="#f4f4f6"/>
<rect x="728.9" y="472.6" width="14" height="2.6" fill="#ee5250"/>
<rect x="728.9" y="477.8" width="14" height="2.6" fill="#ee5250"/>
<rect x="728.9" y="483.0" width="14" height="2.6" fill="#ee5250"/>
<rect x="728.9" y="472.1" width="8.2" height="8.3" fill="#3d8fe8"/>
<g fill="#cfe3fb"><rect x="731.3" y="474.90000000000003" width="0.8" height="0.8"/><rect x="733.3" y="474.90000000000003" width="0.8" height="0.8"/><rect x="735.1999999999999" y="474.90000000000003" width="0.8" height="0.8"/><rect x="731.3" y="476.90000000000003" width="0.8" height="0.8"/><rect x="733.3" y="476.90000000000003" width="0.8" height="0.8"/><rect x="735.1999999999999" y="476.90000000000003" width="0.8" height="0.8"/><rect x="731.3" y="478.8" width="0.8" height="0.8"/><rect x="733.3" y="478.8" width="0.8" height="0.8"/><rect x="735.1999999999999" y="478.8" width="0.8" height="0.8"/></g>
</g></g>
</svg>
<div class="t" style="left:8.40px;top:7.82px;font-size:10.7px;letter-spacing:-0.081px;color:#e8e8e8;">svillafuerte21 created with TradingView.com, Jul 24, 2025 10:34 UTC</div>
<div class="t" style="left:15.40px;top:31.13px;font-size:9.8px;letter-spacing:0.083px;color:#dcdee5;">Ethereum / U.S. Dollar · 12h · COINBASE</div>
<div class="t" style="left:207.60px;top:31.13px;font-size:9.8px;letter-spacing:0.000px;color:#dcdee5;">O</div>
<div class="t" style="left:214.40px;top:31.13px;font-size:9.8px;letter-spacing:0.350px;color:#3d6cf5;">3,630.41</div>
<div class="t" style="left:261.20px;top:31.13px;font-size:9.8px;letter-spacing:0.000px;color:#dcdee5;">H</div>
<div class="t" style="left:268.60px;top:31.13px;font-size:9.8px;letter-spacing:0.436px;color:#3d6cf5;">3,668.00</div>
<div class="t" style="left:316.00px;top:31.13px;font-size:9.8px;letter-spacing:0.000px;color:#dcdee5;">L</div>
<div class="t" style="left:321.60px;top:31.13px;font-size:9.8px;letter-spacing:0.293px;color:#3d6cf5;">3,507.78</div>
<div class="t" style="left:367.40px;top:31.13px;font-size:9.8px;letter-spacing:0.000px;color:#dcdee5;">C</div>
<div class="t" style="left:374.40px;top:31.13px;font-size:9.8px;letter-spacing:0.436px;color:#3d6cf5;">3,595.54</div>
<div class="t" style="left:422.40px;top:31.13px;font-size:9.8px;letter-spacing:0.442px;color:#3d6cf5;">−34.80 (−0.96%)</div>
<div class="t" style="left:15.40px;top:45.13px;font-size:9.8px;letter-spacing:-0.042px;color:#dcdee5;">Vol · ETH</div>
<div class="t" style="left:63.60px;top:45.13px;font-size:9.8px;letter-spacing:0.036px;color:#f0494f;">64.72 K</div>
<div class="t" style="left:15.40px;top:59.13px;font-size:9.8px;letter-spacing:0.276px;color:#dcdee5;">SMAs (50, close, 100, close, 200, close)</div>
<div class="t" style="left:208.00px;top:59.13px;font-size:9.8px;letter-spacing:0.407px;color:#3d6cf5;">3,005.85</div>
<div class="t" style="left:255.60px;top:59.13px;font-size:9.8px;letter-spacing:0.350px;color:#45a84b;">2,758.99</div>
<div class="t" style="left:302.40px;top:59.13px;font-size:9.8px;letter-spacing:0.465px;color:#e23a45;">2,468.65</div>
<div style="position:absolute;left:920.5px;top:25.6px;width:47.8px;height:21.4px;border-radius:4.5px;background:#0f0f0f;box-shadow:0 0 0 0.8px #30323a;"></div>
<div class="t" style="left:928.00px;top:31.93px;font-size:9.8px;letter-spacing:-0.246px;color:#e6e6e6;">USD</div>
<div class="t" style="left:924.40px;top:464.53px;font-size:9.6px;letter-spacing:0.362px;color:#c9ccd4;-webkit-text-stroke:0.06px currentColor;">1,600.00</div>
<div class="t" style="left:924.40px;top:432.70px;font-size:9.6px;letter-spacing:0.362px;color:#c9ccd4;-webkit-text-stroke:0.06px currentColor;">1,800.00</div>
<div class="t" style="left:924.40px;top:400.88px;font-size:9.6px;letter-spacing:0.362px;color:#c9ccd4;-webkit-text-stroke:0.06px currentColor;">2,000.00</div>
<div class="t" style="left:924.40px;top:369.05px;font-size:9.6px;letter-spacing:0.362px;color:#c9ccd4;-webkit-text-stroke:0.06px currentColor;">2,200.00</div>
<div class="t" style="left:924.40px;top:337.23px;font-size:9.6px;letter-spacing:0.362px;color:#c9ccd4;-webkit-text-stroke:0.06px currentColor;">2,400.00</div>
<div class="t" style="left:924.40px;top:305.41px;font-size:9.6px;letter-spacing:0.362px;color:#c9ccd4;-webkit-text-stroke:0.06px currentColor;">2,600.00</div>
<div class="t" style="left:924.40px;top:273.58px;font-size:9.6px;letter-spacing:0.362px;color:#c9ccd4;-webkit-text-stroke:0.06px currentColor;">2,800.00</div>
<div class="t" style="left:924.40px;top:241.76px;font-size:9.6px;letter-spacing:0.362px;color:#c9ccd4;-webkit-text-stroke:0.06px currentColor;">3,000.00</div>
<div class="t" style="left:924.40px;top:209.93px;font-size:9.6px;letter-spacing:0.362px;color:#c9ccd4;-webkit-text-stroke:0.06px currentColor;">3,200.00</div>
<div class="t" style="left:924.40px;top:178.11px;font-size:9.6px;letter-spacing:0.362px;color:#c9ccd4;-webkit-text-stroke:0.06px currentColor;">3,400.00</div>
<div class="t" style="left:924.40px;top:146.29px;font-size:9.6px;letter-spacing:0.362px;color:#c9ccd4;-webkit-text-stroke:0.06px currentColor;">3,600.00</div>
<div class="t" style="left:924.40px;top:114.46px;font-size:9.6px;letter-spacing:0.362px;color:#c9ccd4;-webkit-text-stroke:0.06px currentColor;">3,800.00</div>
<div class="t" style="left:924.40px;top:82.64px;font-size:9.6px;letter-spacing:0.362px;color:#c9ccd4;-webkit-text-stroke:0.06px currentColor;">4,000.00</div>
<div class="t" style="left:924.40px;top:50.81px;font-size:9.6px;letter-spacing:0.362px;color:#c9ccd4;-webkit-text-stroke:0.06px currentColor;">4,200.00</div>
<div class="tag" style="top:103.15px;height:13.7px;background:#fbe83a;"></div>
<div class="t" style="left:924.80px;top:104.71px;font-size:9.6px;letter-spacing:0.319px;color:#131722;-webkit-text-stroke:0.06px currentColor;">3,860.80</div>
<div class="tag" style="top:122.05px;height:13.7px;background:#fbe83a;"></div>
<div class="t" style="left:924.80px;top:123.61px;font-size:9.6px;letter-spacing:0.319px;color:#131722;-webkit-text-stroke:0.06px currentColor;">3,742.95</div>
<div class="tag" style="top:263.75px;height:13.7px;background:#fbe83a;"></div>
<div class="t" style="left:924.80px;top:265.31px;font-size:9.6px;letter-spacing:0.319px;color:#131722;-webkit-text-stroke:0.06px currentColor;">2,852.16</div>
<div class="tag" style="top:145.8px;height:24px;background:#2962ff;"></div>
<div class="t" style="left:924.80px;top:146.91px;font-size:9.6px;letter-spacing:0.319px;color:#ffffff;">3,595.54</div>
<div class="t" style="left:924.80px;top:157.91px;font-size:9.6px;letter-spacing:0.290px;color:#c9d6ff;">01:25:48</div>
<div class="t" style="left:8.26px;top:524.61px;font-size:9.6px;letter-spacing:0.000px;color:#e9ebf0;font-weight:bold;">May</div>
<div class="t" style="left:55.15px;top:524.61px;font-size:9.6px;letter-spacing:-0.214px;color:#cdd0d8;-webkit-text-stroke:0.06px currentColor;">6</div>
<div class="t" style="left:93.04px;top:524.61px;font-size:9.6px;letter-spacing:-0.399px;color:#cdd0d8;-webkit-text-stroke:0.06px currentColor;">11</div>
<div class="t" style="left:132.81px;top:524.61px;font-size:9.6px;letter-spacing:-0.427px;color:#cdd0d8;-webkit-text-stroke:0.06px currentColor;">16</div>
<div class="t" style="left:172.92px;top:524.61px;font-size:9.6px;letter-spacing:-0.427px;color:#cdd0d8;-webkit-text-stroke:0.06px currentColor;">21</div>
<div class="t" style="left:213.03px;top:524.61px;font-size:9.6px;letter-spacing:-0.427px;color:#cdd0d8;-webkit-text-stroke:0.06px currentColor;">26</div>
<div class="t" style="left:257.75px;top:524.61px;font-size:9.6px;letter-spacing:0.000px;color:#e9ebf0;font-weight:bold;">Jun</div>
<div class="t" style="left:303.83px;top:524.61px;font-size:9.6px;letter-spacing:-0.214px;color:#cdd0d8;-webkit-text-stroke:0.06px currentColor;">6</div>
<div class="t" style="left:341.72px;top:524.61px;font-size:9.6px;letter-spacing:-0.399px;color:#cdd0d8;-webkit-text-stroke:0.06px currentColor;">11</div>
<div class="t" style="left:381.49px;top:524.61px;font-size:9.6px;letter-spacing:-0.427px;color:#cdd0d8;-webkit-text-stroke:0.06px currentColor;">16</div>
<div class="t" style="left:421.60px;top:524.61px;font-size:9.6px;letter-spacing:-0.427px;color:#cdd0d8;-webkit-text-stroke:0.06px currentColor;">21</div>
<div class="t" style="left:461.71px;top:524.61px;font-size:9.6px;letter-spacing:-0.427px;color:#cdd0d8;-webkit-text-stroke:0.06px currentColor;">26</div>
<div class="t" style="left:500.01px;top:524.61px;font-size:9.6px;letter-spacing:0.000px;color:#e9ebf0;font-weight:bold;">Jul</div>
<div class="t" style="left:544.49px;top:524.61px;font-size:9.6px;letter-spacing:-0.214px;color:#cdd0d8;-webkit-text-stroke:0.06px currentColor;">6</div>
<div class="t" style="left:582.38px;top:524.61px;font-size:9.6px;letter-spacing:-0.399px;color:#cdd0d8;-webkit-text-stroke:0.06px currentColor;">11</div>
<div class="t" style="left:622.15px;top:524.61px;font-size:9.6px;letter-spacing:-0.427px;color:#cdd0d8;-webkit-text-stroke:0.06px currentColor;">16</div>
<div class="t" style="left:662.26px;top:524.61px;font-size:9.6px;letter-spacing:-0.427px;color:#cdd0d8;-webkit-text-stroke:0.06px currentColor;">21</div>
<div class="t" style="left:702.37px;top:524.61px;font-size:9.6px;letter-spacing:-0.427px;color:#cdd0d8;-webkit-text-stroke:0.06px currentColor;">26</div>
<div class="t" style="left:746.30px;top:524.61px;font-size:9.6px;letter-spacing:0.000px;color:#e9ebf0;font-weight:bold;">Aug</div>
<div class="t" style="left:793.17px;top:524.61px;font-size:9.6px;letter-spacing:-0.214px;color:#cdd0d8;-webkit-text-stroke:0.06px currentColor;">6</div>
<div class="t" style="left:831.06px;top:524.61px;font-size:9.6px;letter-spacing:-0.399px;color:#cdd0d8;-webkit-text-stroke:0.06px currentColor;">11</div>
<div class="t" style="left:870.83px;top:524.61px;font-size:9.6px;letter-spacing:-0.427px;color:#cdd0d8;-webkit-text-stroke:0.06px currentColor;">16</div>
<div style="position:absolute;left:896.1px;top:519px;width:20.9px;height:21px;overflow:hidden"><div class="t" style="left:14.87px;top:5.61px;font-size:9.6px;letter-spacing:-0.427px;color:#cdd0d8;-webkit-text-stroke:0.06px currentColor;">21</div></div>
<div class="t" style="left:15.90px;top:500.28px;font-size:10.3px;letter-spacing:0.000px;color:#dcdee5;font-weight:bold;">...</div>
<svg style="position:absolute;left:7.9px;top:551.2px" width="16.2" height="8.2" viewBox="0 4 36 18"><path fill="#d6d6d6" d="M14 22H7V11H0V4h14v18zM28 22h-8l7.5-18h8L28 22z"/><circle fill="#d6d6d6" cx="20" cy="8" r="4"/></svg>
<div class="t" style="left:28.00px;top:550.86px;font-size:11.2px;letter-spacing:-0.044px;color:#d2d2d2;">TradingView</div>
</body></html>
